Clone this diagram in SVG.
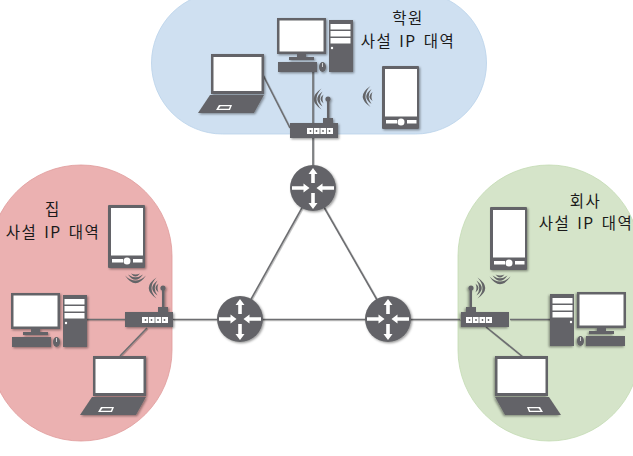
<svg xmlns="http://www.w3.org/2000/svg" xmlns:xlink="http://www.w3.org/1999/xlink" width="633" height="456" viewBox="0 0 633 456">
<style>
.d{fill:#636467}
.w{fill:#fff}
.link{stroke:#6d6e71;stroke-width:1.6;fill:none}
.t{font-family:"Noto Sans CJK KR","Liberation Sans",sans-serif;font-size:15.500px;letter-spacing:1.500px;word-spacing:2px;fill:#1a1a1a;text-anchor:middle}
</style>
<defs>
<filter id="sh" x="-20%" y="-20%" width="150%" height="150%"><feDropShadow dx="1.200" dy="1.200" stdDeviation="1" flood-color="#000" flood-opacity=".4"/></filter>
<filter id="lsh" x="-5%" y="-5%" width="110%" height="110%"><feDropShadow dx=".8" dy=".8" stdDeviation=".6" flood-color="#000" flood-opacity=".3"/></filter>
<g id="desktop" filter="url(#sh)">
<rect class="d" x="0" y="0" width="49" height="36"/><rect class="w" x="2.500" y="2.500" width="44" height="31"/>
<rect class="d" x="20" y="36" width="9" height="4"/><rect class="d" x="12" y="39" width="25" height="3"/>
<rect class="d" x="1" y="44" width="39" height="10"/>
<ellipse class="d" cx="45.500" cy="49" rx="3.500" ry="5"/><rect class="w" x="45.200" y="45" width=".7" height="4"/>
<rect class="d" x="52" y="2" width="24" height="52"/>
<rect class="w" x="53.500" y="6" width="20" height="5.500"/><rect class="w" x="53.500" y="13" width="20" height="5.500"/><rect class="w" x="53.500" y="20" width="20" height="5.500"/>
<circle class="w" cx="55" cy="30" r="1.200"/>
</g>
<g id="laptop" filter="url(#sh)">
<rect class="d" x="0" y="0" width="53" height="40"/><rect class="w" x="2.500" y="3" width="48" height="34"/>
<polygon class="d" points="-1,41 53,41 43,59 -13,59"/>
<polygon class="w" points="8,51 21,51 19,56 5,56"/><polygon class="d" points="9.500,52.200 19,52.200 17.800,54.800 7.500,54.800"/>
</g>
<g id="phone" filter="url(#sh)">
<rect class="d" x="0" y="0" width="37" height="63" rx="1"/><rect class="w" x="3" y="3" width="32" height="47.500"/>
<rect class="w" x="4" y="54" width="11" height="3.500"/><circle class="w" cx="19" cy="56" r="3.500"/><rect class="w" x="25" y="54" width="9.500" height="3.500"/>
</g>
<g id="wave" class="d">
<path d="M-2.500,-4.500Q-8.500,0 -2.500,4.500Q-4.500,0 -2.500,-4.500Z"/>
<path d="M-3.500,-7.500Q-14,0 -3.500,7.500Q-9,0 -3.500,-7.500Z"/>
<path d="M-4.500,-10.500Q-20,0 -4.500,10.500Q-14.500,0 -4.500,-10.500Z"/>
</g>
<g id="switch">
<g filter="url(#sh)">
<rect class="d" x="0" y="0" width="48" height="15"/>
<rect class="d" x="33" y="-5" width="10" height="5"/><rect class="d" x="37" y="-24" width="2.500" height="20"/><circle class="d" cx="38" cy="-24" r="2.600"/>
</g>
<rect class="w" x="17" y="5" width="26" height="6"/>
<g class="d"><circle cx="20.500" cy="8" r=".9"/><circle cx="26.500" cy="8" r=".9"/><circle cx="33" cy="8" r=".9"/><circle cx="39.500" cy="8" r=".9"/></g>
<rect class="d" x="23.200" y="5" width=".8" height="6"/><rect class="d" x="29.600" y="5" width=".8" height="6"/><rect class="d" x="36" y="5" width=".8" height="6"/>
<use xlink:href="#wave" transform="translate(36,-24)"/>
</g>
<g id="router" filter="url(#sh)">
<circle class="d" cx="0" cy="0" r="23"/>
<path class="w" d="M-21,-1.800H-9.500V-4.500L-3.500,0L-9.500,4.500V1.800H-21Z"/>
<path class="w" d="M21,-1.800H9.500V-4.500L3.500,0L9.500,4.500V1.800H21Z"/>
<path class="w" d="M-1.800,-5V-14H-4.500L0,-20L4.500,-14H1.800V-5Z"/>
<path class="w" d="M-1.800,5V15H-4.500L0,21L4.500,15H1.800V5Z"/>
</g>
</defs>
<g id="zones">
<rect id="zone-school" x="151.500" y="-8" width="335" height="142" rx="71" fill="#cfe0f1" stroke="#b9d2ea" stroke-width=".8"/>
<rect id="zone-home" x="-10" y="165" width="182" height="276" rx="91" fill="#ebb1b1" stroke="#e09a9a" stroke-width=".8"/>
<rect id="zone-company" x="458" y="165" width="182" height="276" rx="91" fill="#d5e4c9" stroke="#c3dab2" stroke-width=".8"/>
</g>
<g id="connectors" filter="url(#lsh)">
<path class="link" d="M313,70V165"/>
<path class="link" d="M263,75L290,128"/>
<path class="link" d="M313,188L240,319"/>
<path class="link" d="M313,188L388,319"/>
<path class="link" d="M173,319.500H460"/>
<path class="link" d="M86,319.500H125"/>
<path class="link" d="M147,328L120,356"/>
<path class="link" d="M510,319.500H550"/>
<path class="link" d="M486,327L523,357"/>
</g>
<g id="school-desktop"><use xlink:href="#desktop" transform="translate(277,18)"/></g>
<g id="school-laptop"><use xlink:href="#laptop" transform="translate(211,54)"/></g>
<g id="school-phone"><use xlink:href="#phone" transform="translate(382,66)"/><use xlink:href="#wave" transform="translate(375,96.500)"/></g>
<g id="school-switch"><use xlink:href="#switch" transform="translate(290,123)"/></g>
<g id="home-desktop"><use xlink:href="#desktop" transform="translate(11,293)"/></g>
<g id="home-laptop"><use xlink:href="#laptop" transform="translate(93,356)"/></g>
<g id="home-phone"><use xlink:href="#phone" transform="translate(108,205)"/><use xlink:href="#wave" transform="translate(135.500,271) rotate(-90)"/></g>
<g id="home-switch"><use xlink:href="#switch" transform="translate(125,312)"/></g>
<g id="company-desktop"><use xlink:href="#desktop" transform="translate(626,292) scale(-1,1)"/></g>
<g id="company-laptop"><use xlink:href="#laptop" transform="translate(548,356) scale(-1,1)"/></g>
<g id="company-phone"><use xlink:href="#phone" transform="translate(490,207)"/><use xlink:href="#wave" transform="translate(500,272) rotate(-90)"/></g>
<g id="company-switch"><use xlink:href="#switch" transform="translate(509,312) scale(-1,1)"/></g>
<g id="router-top"><use xlink:href="#router" transform="translate(313,188)"/></g>
<g id="router-left"><use xlink:href="#router" transform="translate(240,319)"/></g>
<g id="router-right"><use xlink:href="#router" transform="translate(388,319)"/></g>
<g id="labels">
<text class="t" x="408" y="24">학원</text><text class="t" x="408" y="46.500">사설 IP 대역</text>
<text class="t" x="53" y="215">집</text><text class="t" x="53" y="237.500">사설 IP 대역</text>
<text class="t" x="585.500" y="206.500">회사</text><text class="t" x="586" y="229">사설 IP 대역</text>
</g>
</svg>
